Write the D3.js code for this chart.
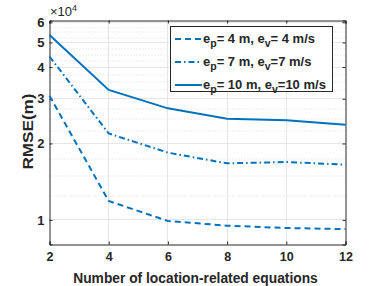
<!DOCTYPE html>
<html>
<head>
<meta charset="utf-8">
<script src="https://cdn.jsdelivr.net/npm/d3@7"></script>
<style>
  body { margin: 0; background: #fff; }
  text { font-family: "Liberation Sans", Arial, sans-serif; font-weight: bold; fill: #262626; }
</style>
</head>
<body>
<div id="chart"></div>
<script>
var xValues = [2, 4, 6, 8, 10, 12];
var rmse4 = [30800, 11870, 9900, 9490, 9290, 9200];
var rmse7 = [44000, 21900, 18400, 16700, 16900, 16500];
var rmse10 = [53500, 32500, 27500, 25000, 24700, 23700];
var xTicks = [2, 4, 6, 8, 10, 12];
var yTicks = [10000, 20000, 30000, 40000, 50000, 60000];
var yMinorTicks = [12500, 15000, 17500, 22500, 25000, 27500,
  32500, 35000, 37500, 42500, 45000, 47500, 52500, 55000, 57500];

var width = 382, height = 286;
var margin = {top: 20.5, right: 36.5, bottom: 41.5, left: 49.5};
var w = width - margin.left - margin.right;
var h = height - margin.top - margin.bottom;
var blue = "#0072BD";

var svg = d3.select("#chart").append("svg")
  .attr("width", width).attr("height", height);
var g = svg.append("g")
  .attr("transform", "translate(" + margin.left + "," + margin.top + ")");

var x = d3.scaleLinear().domain([2, 12]).range([0, w]);
var y = d3.scaleLog().domain([8000, 61000]).range([h, 0]);

// minor grid (dotted)
g.selectAll(".minor").data(yMinorTicks)
  .enter().append("line")
  .attr("x1", 0).attr("x2", w)
  .attr("y1", function(d) { return Math.round(y(d)) + 0.5; })
  .attr("y2", function(d) { return Math.round(y(d)) + 0.5; })
  .attr("stroke", "#d9d9d9").attr("stroke-width", 1).attr("stroke-dasharray", "1,2");

// major grid
g.selectAll(".gx").data(xTicks.slice(1, -1)).enter().append("line")
  .attr("x1", function(d) { return Math.round(x(d)); })
  .attr("x2", function(d) { return Math.round(x(d)); })
  .attr("y1", 0).attr("y2", h)
  .attr("stroke", "#e6e6e6").attr("stroke-width", 1);
g.selectAll(".gy").data(yTicks).enter().append("line")
  .attr("x1", 0).attr("x2", w)
  .attr("y1", function(d) { return Math.round(y(d)); })
  .attr("y2", function(d) { return Math.round(y(d)); })
  .attr("stroke", "#e6e6e6").attr("stroke-width", 1);

// axes
var xAxis = d3.axisBottom(x).tickValues(xTicks).tickSize(-3).tickPadding(8)
  .tickFormat(d3.format("d"));
var yAxis = d3.axisLeft(y).tickValues(yTicks).tickSize(-3).tickPadding(5)
  .tickFormat(function(d) { return d / 10000; });

var gx = g.append("g").attr("transform", "translate(0," + h + ")").call(xAxis);
var gy = g.append("g").call(yAxis);
g.append("g").call(d3.axisTop(x).tickValues(xTicks).tickSize(-3).tickFormat(""));
g.append("g").attr("transform", "translate(" + w + ",0)")
  .call(d3.axisRight(y).tickValues(yTicks).tickSize(-3).tickFormat(""));

g.selectAll(".domain").attr("stroke", "#262626");
g.selectAll(".tick line").attr("stroke", "#262626");
gx.selectAll("text").style("font-size", "12.5px").attr("fill", "#262626");
gy.selectAll("text").style("font-size", "13px").attr("fill", "#262626");

// lines
var line = d3.line()
  .x(function(d, i) { return x(xValues[i]); })
  .y(function(d) { return y(d); });

var series = [
  {values: rmse4, dash: "6,4"},
  {values: rmse7, dash: "6,3,1.5,3"},
  {values: rmse10, dash: null}
];

g.selectAll(".series").data(series).enter().append("path")
  .attr("d", function(d) { return line(d.values); })
  .attr("fill", "none")
  .attr("stroke", blue)
  .attr("stroke-width", 2)
  .attr("stroke-dasharray", function(d) { return d.dash; });

// exponent label
var ex = svg.append("text").attr("x", 50).attr("y", 16).style("font-weight", "normal")
  .style("font-size", "13px");
ex.append("tspan").text("\u00d710");
ex.append("tspan").attr("dy", -5).style("font-size", "9px").text("4");

// axis titles
svg.append("text")
  .attr("transform", "translate(33," + (margin.top + h / 2 - 1) + ") rotate(-90)")
  .attr("text-anchor", "middle").style("font-size", "15px")
  .attr("textLength", 76).attr("lengthAdjust", "spacingAndGlyphs")
  .text("RMSE(m)");
svg.append("text")
  .attr("x", margin.left + w / 2 - 2).attr("y", 283)
  .attr("text-anchor", "middle").style("font-size", "13.8px")
  .text("Number of location-related equations");

// legend
var legend = svg.append("g");
legend.append("rect")
  .attr("x", 170.5).attr("y", 26.5).attr("width", 162).attr("height", 65)
  .attr("fill", "#fff").attr("stroke", "#262626").attr("stroke-width", 1);

var labels = [
  ["= 4 m, e", "= 4 m/s"],
  ["= 7 m, e", "=7 m/s"],
  ["= 10 m, e", "=10 m/s"]
];
series.forEach(function(s, i) {
  var yy = 39 + i * 23;
  legend.append("line")
    .attr("x1", 175).attr("x2", 202).attr("y1", yy).attr("y2", yy)
    .attr("stroke", blue).attr("stroke-width", 2)
    .attr("stroke-dasharray", s.dash);
  var t = legend.append("text").attr("x", 203).attr("y", yy + 4).style("font-size", "13px");
  t.append("tspan").text("e");
  t.append("tspan").attr("dy", 4).style("font-size", "10.5px").text("p");
  t.append("tspan").attr("dy", -4).text(labels[i][0]);
  t.append("tspan").attr("dy", 4).style("font-size", "10.5px").text("v");
  t.append("tspan").attr("dy", -4).text(labels[i][1]);
});
</script>
</body>
</html>
